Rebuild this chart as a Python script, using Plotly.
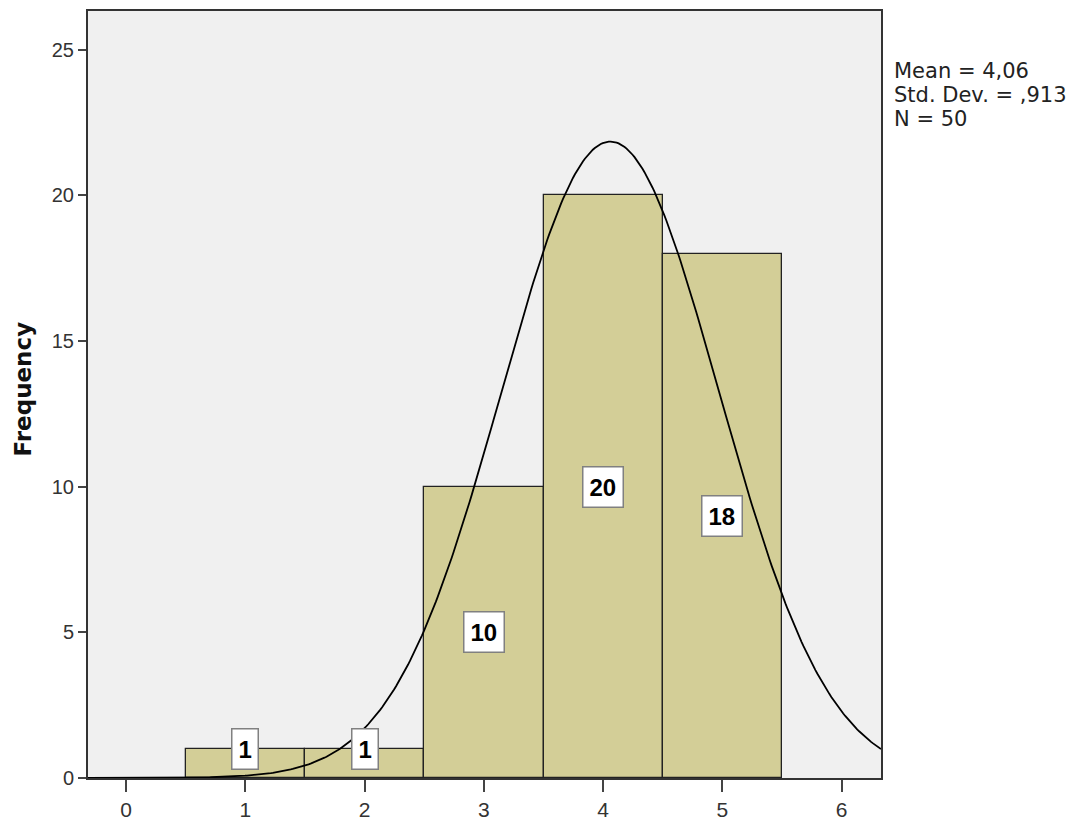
import numpy as np
import plotly.graph_objects as go

# Data
bin_centers = [1, 2, 3, 4, 5]
frequencies = [1, 1, 10, 20, 18]
mean_val = 4.06
std_val = 0.913
n_val = 50
bin_width = 1.0
x_ticks = [0, 1, 2, 3, 4, 5, 6]
y_ticks = [0, 5, 10, 15, 20, 25]
stats_lines = ["Mean = 4,06", "Std. Dev. = ,913", "N = 50"]

x_range = [-0.32, 6.33]
y_range = [0, 26.33]

FONT = "Arial, Liberation Sans, sans-serif"

fig = go.Figure()

fig.add_trace(go.Bar(
    x=bin_centers, y=frequencies, width=bin_width,
    marker=dict(color="#D3CE97", line=dict(color="#222222", width=1.3)),
    hoverinfo="x+y", showlegend=False,
))

# Normal curve scaled to counts
xs = np.linspace(x_range[0], x_range[1], 400)
ys = n_val * bin_width / (std_val * np.sqrt(2 * np.pi)) * np.exp(-0.5 * ((xs - mean_val) / std_val) ** 2)
fig.add_trace(go.Scatter(x=xs, y=ys, mode="lines",
                         line=dict(color="#000000", width=1.8),
                         showlegend=False, hoverinfo="skip"))

# Bar labels
for xc, f in zip(bin_centers, frequencies):
    fig.add_annotation(
        x=xc, y=max(f / 2, 1), text=f"<b>{f}</b>", showarrow=False,
        font=dict(family=FONT, size=24, color="#000000"),
        bgcolor="#ffffff", bordercolor="#808080", borderwidth=1.5, borderpad=6,
        xref="x", yref="y",
    )

# Stats text (one annotation per line)
for i, line in enumerate(stats_lines):
    fig.add_annotation(
        x=1.0, y=1.0, xref="paper", yref="paper", xanchor="left", yanchor="middle",
        xshift=11, yshift=-60 - 24 * i,
        text=line, align="left", showarrow=False,
        font=dict(family="DejaVu Sans, sans-serif", size=21, color="#222222"),
    )

# Y axis title
fig.add_annotation(
    x=0, y=0.5, xref="paper", yref="paper", xanchor="center", yanchor="middle",
    xshift=-66, yshift=5, textangle=-90,
    text="<b>Frequency</b>", showarrow=False,
    font=dict(family="DejaVu Sans, sans-serif", size=23, color="#111111"),
)

fig.update_layout(
    width=1085, height=820,
    margin=dict(l=80, r=212, t=1, b=50),
    paper_bgcolor="#ffffff", plot_bgcolor="#F0F0F0",
    bargap=0,
    font=dict(family=FONT, size=20, color="#333333"),
)

fig.update_xaxes(
    range=x_range, tickvals=x_ticks, ticktext=[str(t) for t in x_ticks],
    ticks="outside", ticklen=12, tickwidth=2, tickcolor="#444444",
    showgrid=False, zeroline=False,
    showline=True, linecolor="#333333", linewidth=2, mirror=True,
    tickfont=dict(family=FONT, size=21, color="#333333"),
)
fig.update_yaxes(
    range=y_range, tickvals=y_ticks, ticktext=[str(t) for t in y_ticks],
    ticks="outside", ticklen=8, tickwidth=2, tickcolor="#444444",
    showgrid=False, zeroline=False,
    showline=True, linecolor="#333333", linewidth=2, mirror=True,
    tickfont=dict(family=FONT, size=20, color="#333333"),
)

fig.write_html("out.html")
